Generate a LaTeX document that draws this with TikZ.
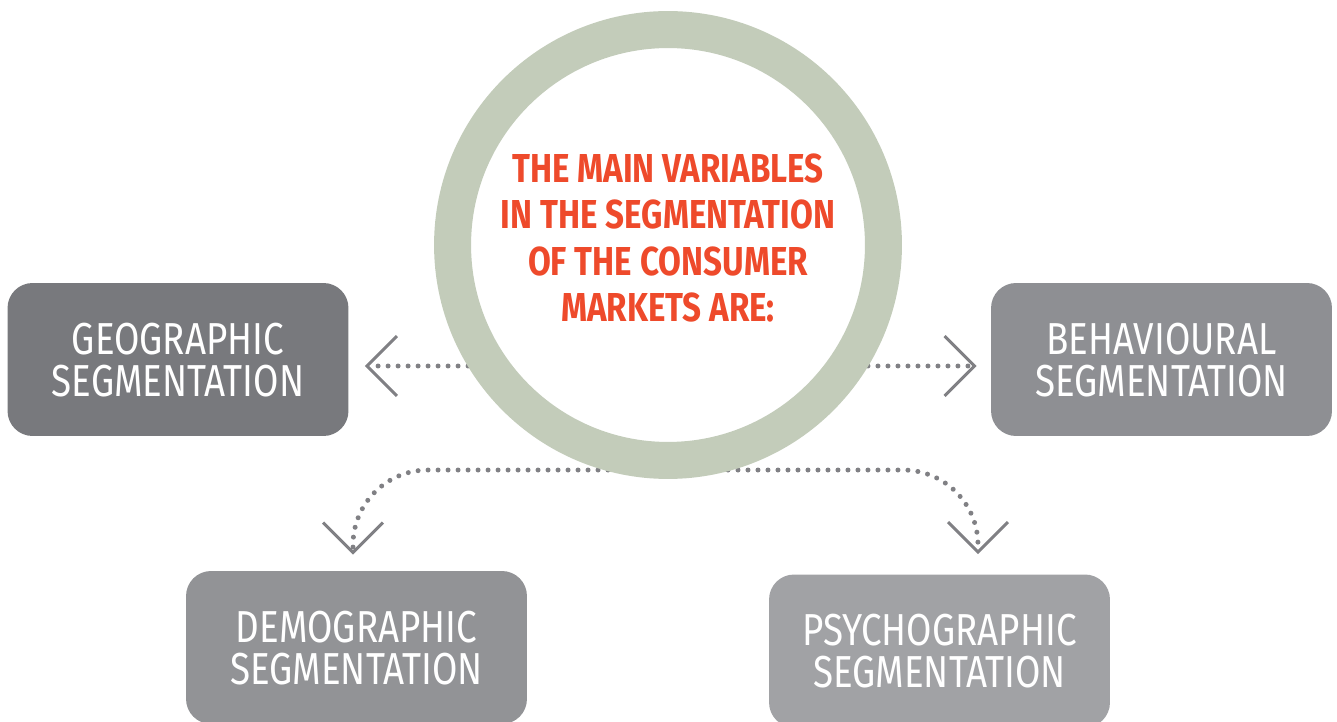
\documentclass[tikz,border=0pt]{standalone}
\usepackage{fontspec}
\setmainfont{Fira Sans}[FakeStretch=0.82]
\usepackage{tikz}
\usetikzlibrary{arrows.meta, positioning, calc}
\definecolor{ringgreen}{HTML}{C3CCBA}
\definecolor{titlered}{HTML}{EE4A2B}
\definecolor{dotgray}{HTML}{808084}
\definecolor{geogray}{HTML}{78797D}
\definecolor{behgray}{HTML}{8E8F93}
\definecolor{demgray}{HTML}{929396}
\definecolor{psygray}{HTML}{A1A2A5}

\begin{document}
\begin{tikzpicture}[x=0.02cm, y=-0.02cm,
  seg node/.style={rectangle, rounded corners=0.5cm, minimum width=6.82cm,
    minimum height=3.06cm, text=white, align=center, text depth=0pt,
    font=\fontsize{25.5}{24}\selectfont},
  ring node/.style={circle, draw=ringgreen, line width=0.74cm,
    minimum size=8.62cm, inner sep=0pt},
  dot line/.style={dotgray, line width=0.1cm, line cap=round,
    dash pattern=on 0pt off 0.2cm},
  chevron/.style={-{Straight Barb[length=0.01pt, width=0.01pt, line width=0.01pt,
    sep=-0.3cm]Straight Barb[length=0.6cm, width=1.2cm, line width=0.06cm]}}]
  \useasboundingbox (0,0) rectangle (1337,722);
  \node[seg node, fill=geogray] (geo) at (178,359.5) {GEOGRAPHIC\\SEGMENTATION};
  \node[seg node, fill=behgray] (beh) at (1161.5,359.5) {BEHAVIOURAL\\SEGMENTATION};
  \node[seg node, fill=demgray] (dem) at (356.5,647.5) {DEMOGRAPHIC\\SEGMENTATION};
  \node[seg node, fill=psygray] (psy) at (939.5,651) {PSYCHOGRAPHIC\\SEGMENTATION};
  \coordinate (mid) at (668,366);
  \coordinate (fork) at (668,470);
  % dotted connectors
  \draw[dot line, chevron, shorten >=0.32cm] (mid) -- (geo.east |- mid);
  \draw[dot line, chevron, shorten >=0.28cm] (mid) -- (beh.west |- mid);
  \draw[dot line, chevron, shorten >=0.32cm, rounded corners=1.5cm]
    (fork) -| ([xshift=-0.07cm]dem.north);
  \draw[dot line, chevron, shorten >=0.4cm, rounded corners=1.5cm]
    (fork) -| ([xshift=0.77cm]psy.north);
  % ring on top
  \node[ring node, fill=white] (ring) at (668,245) {};
  \node[text=titlered, align=center, font=\fontsize{23}{26.4}\selectfont\bfseries]
    (title) at (668,238) {THE MAIN VARIABLES\\IN THE SEGMENTATION\\OF THE CONSUMER\\MARKETS ARE:};
\end{tikzpicture}
\end{document}
